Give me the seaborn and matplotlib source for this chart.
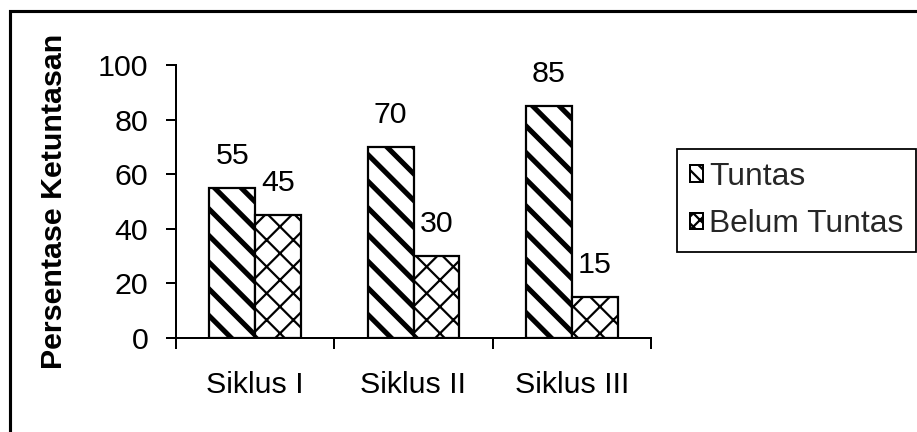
import matplotlib
matplotlib.use("Agg")
import matplotlib.pyplot as plt
import seaborn as sns
import pandas as pd
from matplotlib.patches import Rectangle, Patch

categories = ["Siklus I", "Siklus II", "Siklus III"]
tuntas = [55, 70, 85]
belum_tuntas = [45, 30, 15]
series_names = ["Tuntas", "Belum Tuntas"]
y_ticks = [0, 20, 40, 60, 80, 100]
y_label = "Persentase Ketuntasan"

sns.set_theme(style="white")
plt.rcParams["font.family"] = ["Liberation Sans", "DejaVu Sans"]
plt.rcParams["hatch.color"] = "black"

FS = 13.7
DPI = 160
fig = plt.figure(figsize=(917 / DPI, 432 / DPI), dpi=DPI)
fig.patch.set_facecolor("white")
ax = fig.add_axes([176 / 917, 1 - 338 / 432, (651 - 176) / 917, (338 - 65) / 432])

df = pd.DataFrame({
    "Siklus": categories * 2,
    "Status": [series_names[0]] * 3 + [series_names[1]] * 3,
    "Persentase": tuntas + belum_tuntas,
})

sns.barplot(data=df, x="Siklus", y="Persentase", hue="Status", order=categories,
            hue_order=series_names, palette=["white", "white"], saturation=1,
            width=0.58, edgecolor="black", linewidth=1.0, errorbar=None, ax=ax,
            legend=False)

hatches = ["\\\\", "xx"]
hlw = [2.3, 1.0]
for cont, h, lw in zip(ax.containers, hatches, hlw):
    for bar in cont:
        bar.set_hatch(h)
        bar.set_facecolor("white")
        bar.set_edgecolor("black")
        if hasattr(bar, "set_hatch_linewidth"):
            bar.set_hatch_linewidth(lw)
    ax.bar_label(cont, labels=[f"{v:g}" for v in cont.datavalues], padding=8,
                 fontsize=FS, color="black")

ax.set_ylim(0, 100)
ax.set_xlim(-0.5, 2.5)
ax.set_yticks(y_ticks)
ax.set_yticklabels([str(t) for t in y_ticks], fontsize=FS, color="black")
ax.set_xticks([-0.5, 0.5, 1.5, 2.5])
ax.set_xticklabels([])
ax.set_xticks([0, 1, 2], minor=True)
ax.set_xticklabels(categories, minor=True, fontsize=FS, color="black")
ax.tick_params(axis="x", which="major", direction="out", length=4.8, width=0.9,
               color="black", bottom=True)
ax.tick_params(axis="x", which="minor", length=0, pad=15, bottom=True)
ax.tick_params(axis="y", direction="out", length=4.5, width=0.9, color="black",
               pad=8, left=True)
ax.set_xlabel("")
ax.set_ylabel(y_label, fontsize=FS, fontweight="bold", color="black")
ax.yaxis.set_label_coords(-(176 - 68) / 475, 0.5)
for s in ["top", "right"]:
    ax.spines[s].set_visible(False)
for s in ["left", "bottom"]:
    ax.spines[s].set_color("black")
    ax.spines[s].set_linewidth(0.9)
ax.set_facecolor("white")

handles = [Patch(facecolor="white", edgecolor="black", hatch=h * 2, linewidth=0.9)
           for h in hatches]
leg = fig.legend(handles, series_names, loc="upper left",
                 bbox_to_anchor=(677 / 917, 1 - 149 / 432), fontsize=14.3,
                 frameon=True, fancybox=False, framealpha=1, edgecolor="black",
                 handlelength=0.42, handleheight=0.42, handletextpad=0.2,
                 labelspacing=0.55, borderpad=0.4, borderaxespad=0)
leg.get_frame().set_linewidth(0.8)

fig.patches.append(Rectangle((10 / 917, -0.1), 1.2, 1 - 11 / 432 + 0.1,
                             transform=fig.transFigure, fill=False,
                             edgecolor="black", linewidth=1.4, zorder=10))

fig.savefig("out.png", dpi=DPI, facecolor="white")
